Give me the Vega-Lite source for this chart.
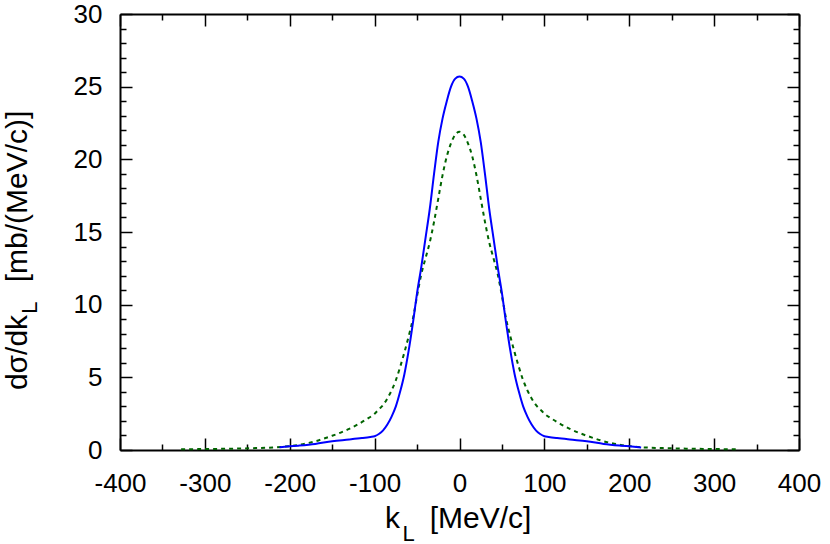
{
  "$schema": "https://vega.github.io/schema/vega-lite/v6.json",
  "width": 679,
  "height": 436,
  "autosize": {"type": "none"},
  "padding": {"left": 120, "top": 14, "right": 31, "bottom": 94},
  "background": "white",
  "datasets": {
    "full": [
      {"k": -212, "v": 0.18}, {"k": -200, "v": 0.25}, {"k": -190, "v": 0.3}, {"k": -170, "v": 0.42},
      {"k": -150, "v": 0.6}, {"k": -130, "v": 0.72}, {"k": -115, "v": 0.82}, {"k": -105, "v": 0.9},
      {"k": -100, "v": 0.95}, {"k": -95, "v": 1.1}, {"k": -90, "v": 1.35}, {"k": -85, "v": 1.75},
      {"k": -80, "v": 2.3}, {"k": -75, "v": 3.0}, {"k": -70, "v": 4.0}, {"k": -65, "v": 5.2},
      {"k": -60, "v": 6.8}, {"k": -55, "v": 8.7}, {"k": -50, "v": 10.8}, {"k": -45, "v": 12.6},
      {"k": -40, "v": 14.6}, {"k": -35, "v": 16.6}, {"k": -30, "v": 19.0}, {"k": -25, "v": 21.2},
      {"k": -20, "v": 22.8}, {"k": -15, "v": 24.0}, {"k": -10, "v": 25.0}, {"k": -5, "v": 25.55},
      {"k": 0, "v": 25.7}, {"k": 5, "v": 25.55}, {"k": 10, "v": 25.0}, {"k": 15, "v": 24.0},
      {"k": 20, "v": 22.8}, {"k": 25, "v": 21.2}, {"k": 30, "v": 19.0}, {"k": 35, "v": 16.6},
      {"k": 40, "v": 14.6}, {"k": 45, "v": 12.6}, {"k": 50, "v": 10.8}, {"k": 55, "v": 8.7},
      {"k": 60, "v": 6.8}, {"k": 65, "v": 5.2}, {"k": 70, "v": 4.0}, {"k": 75, "v": 3.0},
      {"k": 80, "v": 2.3}, {"k": 85, "v": 1.75}, {"k": 90, "v": 1.35}, {"k": 95, "v": 1.1},
      {"k": 100, "v": 0.95}, {"k": 105, "v": 0.9}, {"k": 115, "v": 0.82}, {"k": 130, "v": 0.72},
      {"k": 150, "v": 0.6}, {"k": 170, "v": 0.42}, {"k": 190, "v": 0.3}, {"k": 200, "v": 0.25},
      {"k": 214, "v": 0.18}
    ],
    "approx": [
      {"k": -328, "v": 0.05}, {"k": -320, "v": 0.05}, {"k": -300, "v": 0.07}, {"k": -280, "v": 0.08},
      {"k": -260, "v": 0.1}, {"k": -240, "v": 0.13}, {"k": -220, "v": 0.17}, {"k": -210, "v": 0.21},
      {"k": -200, "v": 0.27}, {"k": -190, "v": 0.35}, {"k": -180, "v": 0.46}, {"k": -170, "v": 0.6},
      {"k": -160, "v": 0.78}, {"k": -150, "v": 0.98}, {"k": -140, "v": 1.2}, {"k": -130, "v": 1.45},
      {"k": -120, "v": 1.75}, {"k": -110, "v": 2.1}, {"k": -100, "v": 2.5}, {"k": -95, "v": 2.8},
      {"k": -90, "v": 3.1}, {"k": -85, "v": 3.55}, {"k": -80, "v": 4.1}, {"k": -75, "v": 4.8},
      {"k": -70, "v": 5.7}, {"k": -65, "v": 6.7}, {"k": -60, "v": 7.8}, {"k": -55, "v": 9.0},
      {"k": -50, "v": 10.6}, {"k": -45, "v": 12.1}, {"k": -40, "v": 13.2}, {"k": -35, "v": 14.3},
      {"k": -30, "v": 15.7}, {"k": -25, "v": 17.3}, {"k": -20, "v": 18.9}, {"k": -15, "v": 20.2},
      {"k": -10, "v": 21.1}, {"k": -5, "v": 21.7}, {"k": 0, "v": 21.9}, {"k": 5, "v": 21.7},
      {"k": 10, "v": 21.1}, {"k": 15, "v": 20.2}, {"k": 20, "v": 18.9}, {"k": 25, "v": 17.3},
      {"k": 30, "v": 15.7}, {"k": 35, "v": 14.3}, {"k": 40, "v": 13.2}, {"k": 45, "v": 12.1},
      {"k": 50, "v": 10.6}, {"k": 55, "v": 9.0}, {"k": 60, "v": 7.8}, {"k": 65, "v": 6.7},
      {"k": 70, "v": 5.7}, {"k": 75, "v": 4.8}, {"k": 80, "v": 4.1}, {"k": 85, "v": 3.55},
      {"k": 90, "v": 3.1}, {"k": 95, "v": 2.8}, {"k": 100, "v": 2.5}, {"k": 110, "v": 2.1},
      {"k": 120, "v": 1.75}, {"k": 130, "v": 1.45}, {"k": 140, "v": 1.2}, {"k": 150, "v": 0.98},
      {"k": 160, "v": 0.78}, {"k": 170, "v": 0.6}, {"k": 180, "v": 0.46}, {"k": 190, "v": 0.35},
      {"k": 200, "v": 0.27}, {"k": 210, "v": 0.21}, {"k": 220, "v": 0.17}, {"k": 240, "v": 0.13},
      {"k": 260, "v": 0.1}, {"k": 280, "v": 0.08}, {"k": 300, "v": 0.07}, {"k": 320, "v": 0.05},
      {"k": 330, "v": 0.05}
    ]
  },
  "resolve": {"axis": {"x": "independent", "y": "independent"}},
  "layer": [
    {
      "data": {"name": "approx"},
      "mark": {"type": "line", "color": "#006400", "strokeWidth": 2, "strokeDash": [4, 4], "interpolate": "monotone"},
      "encoding": {
        "x": {"field": "k", "type": "quantitative", "scale": {"domain": [-400, 400], "nice": false, "zero": false},
          "axis": {"orient": "top", "values": [-400,-350,-300,-250,-200,-150,-100,-50,0,50,100,150,200,250,300,350,400],
            "labels": false, "title": null,
            "tickSize": {"expr": "datum.value % 100 === 0 ? -12 : -6"}}},
        "y": {"field": "v", "type": "quantitative", "scale": {"domain": [0, 30], "nice": false},
          "axis": {"orient": "right", "values": [0,1,2,3,4,5,6,7,8,9,10,11,12,13,14,15,16,17,18,19,20,21,22,23,24,25,26,27,28,29,30],
            "labels": false, "title": null,
            "tickSize": {"expr": "datum.value % 5 === 0 ? -12 : -6"}}}
      }
    },
    {
      "data": {"name": "full"},
      "mark": {"type": "line", "color": "#0000ff", "strokeWidth": 2, "interpolate": "monotone"},
      "encoding": {
        "x": {"field": "k", "type": "quantitative", "scale": {"domain": [-400, 400], "nice": false, "zero": false},
          "axis": {"orient": "bottom", "values": [-400,-350,-300,-250,-200,-150,-100,-50,0,50,100,150,200,250,300,350,400],
            "labelExpr": "datum.value % 100 === 0 ? '' + datum.value : ''",
            "tickSize": {"expr": "datum.value % 100 === 0 ? -12 : -6"},
            "labelPadding": 32,
            "title": "k", "titleX": 272, "titleY": 77, "titleAlign": "center", "titleBaseline": "alphabetic"}},
        "y": {"field": "v", "type": "quantitative", "scale": {"domain": [0, 30], "nice": false},
          "axis": {"orient": "left", "values": [0,1,2,3,4,5,6,7,8,9,10,11,12,13,14,15,16,17,18,19,20,21,22,23,24,25,26,27,28,29,30],
            "labelExpr": "datum.value % 5 === 0 ? '' + datum.value : ''",
            "tickSize": {"expr": "datum.value % 5 === 0 ? -12 : -6"},
            "labelPadding": 30,
            "title": "dσ/dk", "titleX": -94, "titleY": 338, "titleAngle": -90, "titleAlign": "center", "titleBaseline": "alphabetic"}}
      }
    },
    {
      "data": {"name": "full"},
      "mark": {"type": "line", "strokeOpacity": 0},
      "encoding": {
        "x": {"field": "k", "type": "quantitative",
          "axis": {"orient": "bottom", "labels": false, "ticks": false, "domain": false,
            "title": "[MeV/c]", "titleX": 360, "titleY": 77, "titleAlign": "center", "titleBaseline": "alphabetic"}},
        "y": {"field": "v", "type": "quantitative",
          "axis": {"orient": "left", "labels": false, "ticks": false, "domain": false,
            "title": "[mb/(MeV/c)]", "titleX": -94, "titleY": 182, "titleAngle": -90, "titleAlign": "center", "titleBaseline": "alphabetic"}}
      }
    },
    {
      "data": {"name": "full"},
      "mark": {"type": "line", "strokeOpacity": 0},
      "encoding": {
        "x": {"field": "k", "type": "quantitative",
          "axis": {"orient": "bottom", "labels": false, "ticks": false, "domain": false,
            "title": "L", "titleX": 288, "titleY": 90, "titleAlign": "center", "titleBaseline": "alphabetic", "titleFontSize": 22}},
        "y": {"field": "v", "type": "quantitative",
          "axis": {"orient": "left", "labels": false, "ticks": false, "domain": false,
            "title": "L", "titleX": -84, "titleY": 293, "titleAngle": -90, "titleAlign": "center", "titleBaseline": "alphabetic", "titleFontSize": 22}}
      }
    }
  ],
  "config": {
    "view": {"stroke": null},
    "axis": {
      "grid": false,
      "domainColor": "black", "domainWidth": 2,
      "tickColor": "black", "tickWidth": 1.5,
      "labelFont": "Liberation Sans", "labelFontSize": 26, "labelColor": "black",
      "labelFlush": false, "labelOverlap": false, "labelBound": false,
      "titleFont": "Liberation Sans", "titleFontSize": 30, "titleColor": "black", "titleFontWeight": "normal"
    }
  }
}
